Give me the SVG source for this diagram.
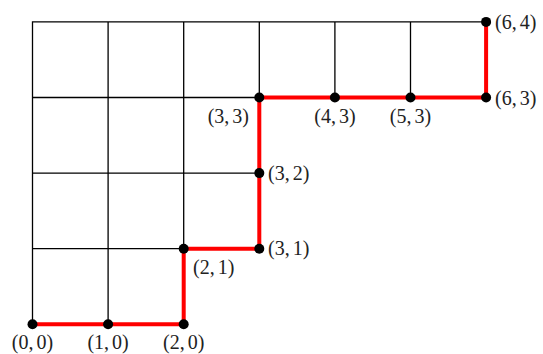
<svg xmlns="http://www.w3.org/2000/svg" width="543" height="354" viewBox="0 0 543 354">
<style>
.g{stroke:#000;stroke-width:1.3;fill:none;stroke-linecap:square}
.r{stroke:#f00;stroke-width:4;fill:none;stroke-linejoin:miter}
.d{fill:#000}
text{font-family:"Liberation Serif","Times New Roman",serif;font-size:20px;fill:#222}
.m{text-anchor:middle}
.e{text-anchor:end}
</style>
<rect width="543" height="354" fill="#fff"/>
<g id="connectors">
<path class="g" d="M32.5,21.9H486.1 M32.5,97.5H259.3 M32.5,173.1H259.3 M32.5,248.7H183.7 M32.5,21.9V324.3 M108.1,21.9V324.3 M183.7,21.9V248.7 M259.3,21.9V97.5 M334.9,21.9V97.5 M410.5,21.9V97.5"/>
<path class="r" d="M32.5,324.3H183.7V248.7H259.3V97.5H486.1V21.9"/>
</g>
<g id="n00"><circle class="d" cx="32.5" cy="324.3" r="5"/><text class="m" x="32.5" y="349">(0,<tspan dx="3">0)</tspan></text></g>
<g id="n10"><circle class="d" cx="108.1" cy="324.3" r="5"/><text class="m" x="108.1" y="349">(1,<tspan dx="3">0)</tspan></text></g>
<g id="n20"><circle class="d" cx="183.7" cy="324.3" r="5"/><text class="m" x="183.7" y="349">(2,<tspan dx="3">0)</tspan></text></g>
<g id="n21"><circle class="d" cx="183.7" cy="248.7" r="5"/><text x="193" y="274">(2,<tspan dx="3">1)</tspan></text></g>
<g id="n31"><circle class="d" cx="259.3" cy="248.7" r="5"/><text x="268" y="255">(3,<tspan dx="3">1)</tspan></text></g>
<g id="n32"><circle class="d" cx="259.3" cy="173.1" r="5"/><text x="268" y="179.5">(3,<tspan dx="3">2)</tspan></text></g>
<g id="n33"><circle class="d" cx="259.3" cy="97.5" r="5"/><text class="e" x="249" y="123">(3,<tspan dx="3">3)</tspan></text></g>
<g id="n43"><circle class="d" cx="334.9" cy="97.5" r="5"/><text class="m" x="334.9" y="123">(4,<tspan dx="3">3)</tspan></text></g>
<g id="n53"><circle class="d" cx="410.5" cy="97.5" r="5"/><text class="m" x="410.5" y="123">(5,<tspan dx="3">3)</tspan></text></g>
<g id="n63"><circle class="d" cx="486.1" cy="97.5" r="5"/><text x="495" y="104.5">(6,<tspan dx="3">3)</tspan></text></g>
<g id="n64"><circle class="d" cx="486.1" cy="21.9" r="5"/><text x="495" y="29">(6,<tspan dx="3">4)</tspan></text></g>
</svg>
